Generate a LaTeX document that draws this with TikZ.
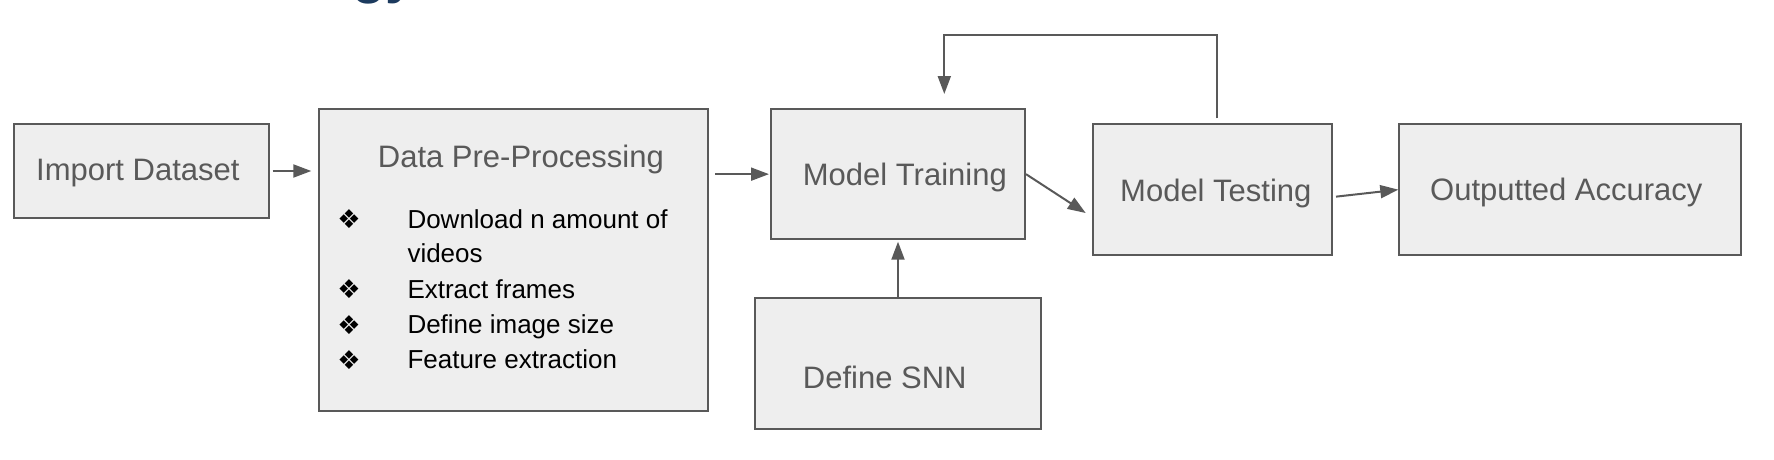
\documentclass[tikz,border=0pt]{standalone}
\usepackage{fontspec}
\setmainfont{Liberation Sans}
\newfontfamily\bulletfont{DejaVu Sans}
\usetikzlibrary{arrows.meta,calc}
\definecolor{edge}{HTML}{595959}
\definecolor{boxfill}{HTML}{EEEEEE}
\definecolor{navy}{HTML}{1C3A5E}
\begin{document}
\begin{tikzpicture}[x=1pt,y=-1pt,
  box/.style={draw=edge, fill=boxfill, line width=2pt, inner sep=0pt, rectangle},
  lbl/.style={anchor=base west, inner sep=0pt, text=edge, font=\fontsize{31}{37}\selectfont},
  btxt/.style={anchor=base west, inner sep=0pt, text=black, font=\fontsize{26}{31}\selectfont},
  bul/.style={inner sep=0pt, text=black, font=\bulletfont\fontsize{26}{30}\selectfont},
  arr/.style={draw=edge, line width=2pt, -{Triangle[length=18pt,width=13pt]}}]
\useasboundingbox (0,0) rectangle (1774,460);

% cut-off title fragment
\node[anchor=base west, inner sep=0pt, text=navy, font=\fontsize{55}{60}\selectfont\bfseries] (title) at (352,-7.5) {gy};

% boxes
\node[box, minimum width=255pt, minimum height=94pt] (imp) at (141.2,171) {};
\node[box, minimum width=388.7pt, minimum height=301.7pt] (dpp) at (513.35,259.85) {};
\node[box, minimum width=254.3pt, minimum height=130.3pt] (mt) at (897.85,174.15) {};
\node[box, minimum width=239.3pt, minimum height=130.7pt] (mtest) at (1212.35,189.65) {};
\node[box, minimum width=341.7pt, minimum height=130.7pt] (out) at (1570.15,189.65) {};
\node[box, minimum width=286pt, minimum height=131pt] (snn) at (898,363.8) {};

% labels
\node[lbl] (imptxt) at (36,180) {Import Dataset};
\node[lbl] (dpptxt) at (377.7,167.7) {Data Pre-Processing};
\node[lbl] (mttxt) at (802.7,185.7) {Model Training};
\node[lbl] (mtesttxt) at (1120,201.7) {Model Testing};
\node[lbl] (outtxt) at (1430,200.7) {Outputted Accuracy};
\node[lbl] (snntxt) at (802.7,388.3) {Define SNN};

% bullets
\node[bul] (b1) at (349,219) {❖};
\node[bul] (b2) at (349,289.3) {❖};
\node[bul] (b3) at (349,325) {❖};
\node[bul] (b4) at (349,360) {❖};
\node[btxt] (l1) at (407.3,228.3) {Download n amount of};
\node[btxt] (l1b) at (407.3,262.7) {videos};
\node[btxt] (l2) at (407.3,298.3) {Extract frames};
\node[btxt] (l3) at (407.3,333.3) {Define image size};
\node[btxt] (l4) at (407.3,368.3) {Feature extraction};

% connectors
\draw[arr, shorten <=3pt, shorten >=6.7pt] (imp.east) -- (imp.east -| dpp.west);
\draw[arr, shorten <=6.6pt, shorten >=0.7pt] (mt.west -| dpp.east) -- (mt.west);
\coordinate (mtin) at ($(mtest.south west)!0.324!(mtest.north west)+(-6,0)$);
\draw[arr] (mt.east) -- (mtin);
\coordinate (tsout) at ($(mtest.east)+(3,7)$);
\draw[arr] (tsout) -- (out.west);
\draw[arr, shorten >=1.4pt] (snn.north) -- (snn.north |- mt.south);
\coordinate (fbs) at ($(mtest.north)+(4.65,-5)$);
\coordinate (fbe) at ($(mt.north)+(46.45,-14)$);
\draw[arr] (fbs) -- ++(0,-83.6) -| (fbe);
\end{tikzpicture}
\end{document}
